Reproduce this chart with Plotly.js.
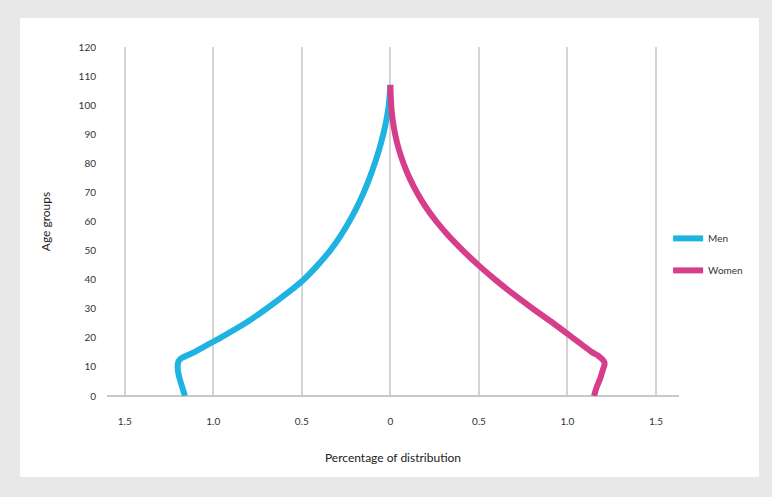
<!DOCTYPE html>
<html>
<head>
<meta charset="utf-8">
<script src="https://cdn.plot.ly/plotly-3.0.1.min.js"></script>
<style>
  html, body { margin:0; padding:0; background:#e8e8e8; width:772px; height:497px; overflow:hidden; }
  #frame { position:absolute; left:20px; top:18px; width:739px; height:459px; background:#ffffff; }
  #chart { width:739px; height:459px; }
</style>
</head>
<body>
<div id="frame"><div id="chart"></div></div>
<script>
// Age groups (y)
const ages = [0, 3, 6, 9, 11, 12, 13, 14, 15, 17.5, 20, 25, 30, 35, 40, 45, 50, 55, 60, 65, 70, 75, 80, 85, 90, 95, 100, 105, 107];
// Men: percentage of distribution (drawn on the left, negative side)
const menPct = [1.16, 1.175, 1.19, 1.2, 1.2, 1.195, 1.18, 1.145, 1.11, 1.035, 0.96, 0.82, 0.70, 0.59, 0.49, 0.41, 0.34, 0.282, 0.232, 0.188, 0.150, 0.117, 0.088, 0.062, 0.040, 0.022, 0.009, 0.002, 0];
// Women: percentage of distribution (right side)
const womenPct = [1.15, 1.165, 1.185, 1.2, 1.21, 1.205, 1.19, 1.17, 1.14, 1.085, 1.03, 0.92, 0.805, 0.695, 0.592, 0.497, 0.41, 0.33, 0.26, 0.20, 0.15, 0.108, 0.074, 0.047, 0.027, 0.013, 0.005, 0.001, 0];
const xTickVals = [-1.5, -1, -0.5, 0, 0.5, 1, 1.5];
const xTickText = ["1.5", "1.0", "0.5", "0", "0.5", "1.0", "1.5"];
const yTickVals = [0, 10, 20, 30, 40, 50, 60, 70, 80, 90, 100, 110, 120];

const traces = [
  {
    x: menPct.map(v => -v), y: ages, name: "Men", legendgroup: "men", type: "scatter", mode: "lines",
    line: {color: "#1fb3e1", width: 6, shape: "spline", smoothing: 0.8}
  },
  {
    x: womenPct, y: ages, name: "Women", legendgroup: "women", type: "scatter", mode: "lines",
    line: {color: "#d63d8b", width: 6, shape: "spline", smoothing: 0.8}
  }
];

const font = "Lato, 'Open Sans', 'DejaVu Sans', sans-serif";
const layout = {
  width: 739, height: 459,
  margin: {l: 87, r: 80, t: 29, b: 81, autoexpand: false},
  paper_bgcolor: "#ffffff", plot_bgcolor: "#ffffff",
  font: {family: font, size: 10, color: "#333333"},
  showlegend: true,
  legend: {xref: "container", yref: "container", x: 0.877, y: 0.485, xanchor: "left", yanchor: "middle",
           font: {size: 10, color: "#333"}, tracegroupgap: 13, itemwidth: 30, bgcolor: "rgba(0,0,0,0)"},
  xaxis: {
    range: [-1.6, 1.63], tickvals: xTickVals, ticktext: xTickText,
    showgrid: true, gridcolor: "#d4d4d4", gridwidth: 2,
    zeroline: false, showline: false,
    ticks: "outside", ticklen: 16, tickcolor: "rgba(0,0,0,0)",
    tickfont: {size: 10, color: "#333"},
    title: {text: "Percentage of distribution", font: {size: 12, color: "#222"}, standoff: 27}
  },
  yaxis: {
    range: [0, 120], tickvals: yTickVals,
    showgrid: false, zeroline: true, zerolinecolor: "#c8c8c8", zerolinewidth: 2,
    showline: false,
    ticks: "outside", ticklen: 8, tickcolor: "rgba(0,0,0,0)",
    tickfont: {size: 10, color: "#333"},
    title: {text: "Age groups", font: {size: 12, color: "#222"}, standoff: 25}
  }
};

Plotly.newPlot("chart", traces, layout, {displayModeBar: false, staticPlot: true});
</script>
</body>
</html>
